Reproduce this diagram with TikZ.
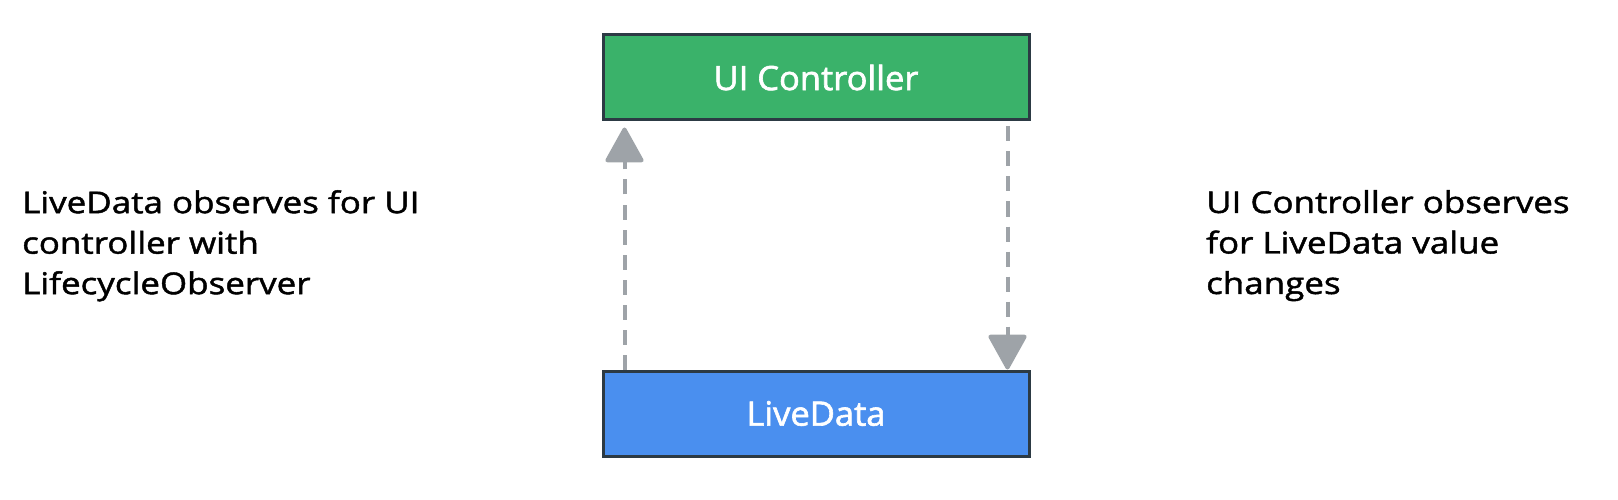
\documentclass[tikz,border=0pt]{standalone}
\usepackage{fontspec}
\setmainfont{Open Sans}
\newfontfamily\sidefont{Open Sans}[FakeStretch=1.165,FakeBold=1.5]
\newfontfamily\boxfont{Open Sans}[FakeStretch=1.03,FakeBold=1.8]
\usetikzlibrary{arrows.meta}
\definecolor{uigreen}{HTML}{3AB26A}
\definecolor{ldblue}{HTML}{4A8FEF}
\definecolor{boxborder}{HTML}{2C3A44}
\definecolor{arrowgray}{HTML}{9EA3A8}
\tikzset{
  box/.style={draw=boxborder, line width=3pt, minimum width=426pt, minimum height=85pt,
    inner sep=0pt, text=white, font=\boxfont\fontsize{33.5}{40}\selectfont},
  side/.style={anchor=north west, inner sep=0pt, align=left, font=\sidefont\fontsize{30}{40.5}\selectfont},
  arr/.style={draw=arrowgray, line width=4pt, dash pattern=on 15pt off 10pt,
    -{Triangle[length=37pt,width=40pt,round]}}
}
\begin{document}
\begin{tikzpicture}[x=1pt,y=-1pt]
\useasboundingbox (0,0) rectangle (1618,500);
\node[box, fill=uigreen] (ui) at (816,77.5) {UI Controller};
\node[box, fill=ldblue] (ld) at (816,413.5) {LiveData};
\draw[arr, shorten >=6pt] ([xshift=23pt]ld.north west) -- ([xshift=23pt]ui.south west);
\draw[arr, shorten <=5pt] ([xshift=-23pt]ui.south east) -- ([xshift=-23pt]ld.north east);
\node[side] (lt) at (22,190) {LiveData observes for UI\\controller with\\LifecycleObserver};
\node[side] (rt) at (1206,190) {UI Controller observes\\for LiveData value\\changes};
\end{tikzpicture}
\end{document}
